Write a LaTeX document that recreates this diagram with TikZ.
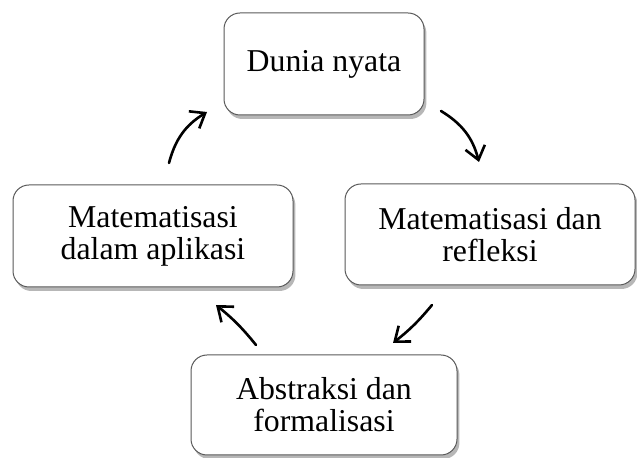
\documentclass[tikz,border=0pt]{standalone}
\usepackage{fontspec}
\setmainfont{Liberation Serif}
\usetikzlibrary{arrows.meta,shadows}
\tikzset{>={Straight Barb[length=6.5pt,width=10pt]}}
\tikzset{
  stage/.style={draw=black!65, line width=0.5pt, rounded corners=8pt, fill=white,
    align=center, inner sep=2pt,
    font=\fontsize{15.9}{16}\selectfont,
    drop shadow={shadow xshift=1.2pt, shadow yshift=-2pt, opacity=0.4, fill=black!70}},
  cycle/.style={->, line width=1.3pt, line cap=round}
}

\begin{document}
\begin{tikzpicture}[x=0.5pt,y=-0.5pt]
		\useasboundingbox (0,0) rectangle (637,458);
		% Stages
		\node[stage, minimum width=100pt, minimum height=51pt] (nyata) at (324,64) {Dunia nyata};
		\node[stage, minimum width=145pt, minimum height=50.5pt] (refleksi) at (490,234.5) {Matematisasi dan\\refleksi};
		\node[stage, minimum width=133pt, minimum height=50pt] (formal) at (324,405) {Abstraksi dan\\formalisasi};
		\node[stage, minimum width=140pt, minimum height=51pt] (aplikasi) at (153,236) {Matematisasi\\dalam aplikasi};
		
		% Arrow ends
		\coordinate (a1) at (441,111);  \coordinate (b1) at (479,162);
		\coordinate (a2) at (432,305);  \coordinate (b2) at (393,343);
		\coordinate (a3) at (256,345);  \coordinate (b3) at (216,305);
		\coordinate (a4) at (169,163);  \coordinate (b4) at (207,112);
		
		% Cycle
		\draw[cycle] (a1) to[bend left=22] (b1);
		\draw[cycle] (a2) to[bend left=6] (b2);
		\draw[cycle] (a3) to[bend right=6] (b3);
		\draw[cycle] (a4) to[bend left=22] (b4);
	\end{tikzpicture}
\end{document}
